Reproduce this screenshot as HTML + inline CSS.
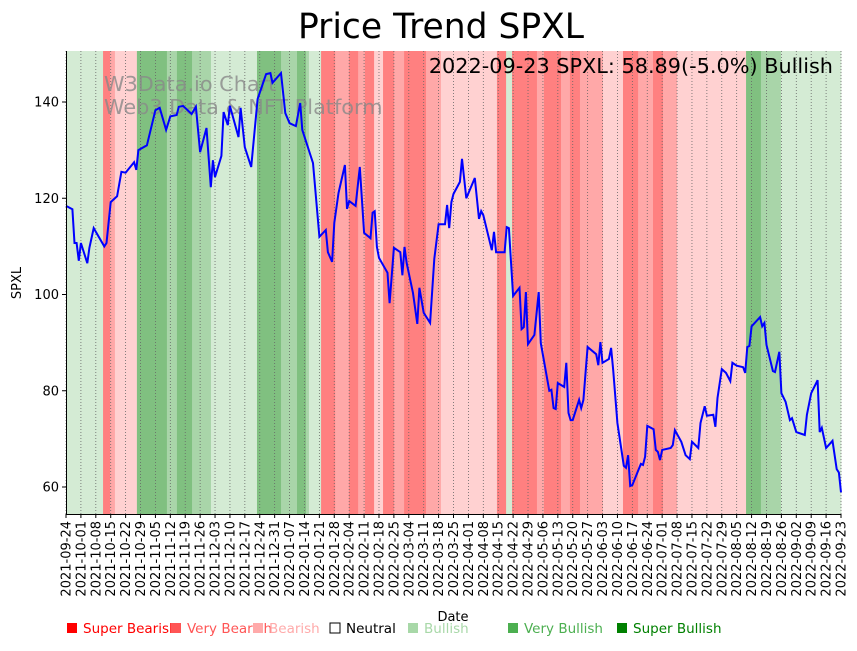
<!DOCTYPE html>
<html><head><meta charset="utf-8"><style>
body{margin:0;background:#fff;font-family:"Liberation Sans","DejaVu Sans",sans-serif;}
svg text{font-family:"DejaVu Sans","Liberation Sans",sans-serif;}
</style></head><body>
<svg id="chart" width="857" height="646" xmlns="http://www.w3.org/2000/svg">
<text x="441" y="38" text-anchor="middle" font-size="34.5">Price Trend SPXL</text>
<g id="bands"></g>
<g id="grid"></g>
<text x="104" y="91" font-size="20.8" fill="#888" fill-opacity="0.8">W3Data.io Chart</text>
<text x="104" y="114" font-size="20.8" fill="#888" fill-opacity="0.8">Web3 Data &amp; NFT Platform</text>
<path id="line" fill="none" stroke="#0000ff" stroke-width="2"/>
<text x="833" y="73" text-anchor="end" font-size="20.8">2022-09-23 SPXL: 58.89(-5.0%) Bullish</text>
<line x1="66.5" y1="51" x2="66.5" y2="514" stroke="#000"/>
<line x1="66" y1="514.5" x2="841" y2="514.5" stroke="#000"/>
<g id="yticks"></g>
<g id="xticks"></g>
<text transform="translate(21,283) rotate(-90)" text-anchor="middle" font-size="13">SPXL</text>
<text x="453" y="621" text-anchor="middle" font-size="13">Date</text>
<g id="legend" font-size="13.5"></g>
</svg>
<script>
const days=[0,3,4,5,6,7,10,11,13,18,19,21,24,26,28,32,33,34,38,42,44,47,49,52,53,55,59,61,63,66,68,69,70,73,74,76,77,81,82,84,87,90,94,96,97,101,103,105,108,110,111,116,119,122,123,125,126,128,131,132,133,136,138,140,143,144,145,146,147,151,152,154,157,158,159,160,163,165,166,168,171,173,175,178,179,180,181,182,185,186,188,192,194,195,196,200,201,202,206,207,208,210,213,214,215,216,217,220,222,223,227,228,229,230,231,234,235,236,237,238,241,242,243,245,249,250,251,252,255,256,257,259,262,263,264,265,266,270,271,272,273,276,277,278,279,280,284,285,286,289,291,293,294,297,298,300,301,304,305,306,308,310,312,313,315,318,319,320,321,322,326,327,328,329,332,333,335,336,338,340,341,343,347,348,350,353,354,355,357,360,362,363,364];
const prices=[118.4,117.7,110.7,110.7,107,110.7,106.5,109.7,113.8,110,110.7,119.2,120.4,125.5,125.3,127.5,125.9,130,131,138.3,138.8,134.2,137,137.3,139,139.2,137.5,139,129.6,134.6,122.3,127.9,124.4,128.8,137.9,135.2,139.2,132.7,138.8,130.6,126.5,140.6,145.8,146,144,146,137.7,135.6,135,139.8,134.2,127.3,112,113.4,108.8,106.8,114.9,121.1,126.9,117.8,119.4,118.4,126.5,112.8,111.7,117,117.3,109.9,107.6,104.5,98.2,109.7,108.8,104,109.9,106.5,100.3,93.9,101.4,96.2,94.1,107.4,114.6,114.6,118.6,113.8,119.2,120.9,123.4,128.2,120,124.2,115.7,117.3,116.5,109.2,113,108.8,108.8,114,113.8,99.7,101.4,92.8,93.2,100.5,89.7,91.6,100.5,89.9,80,80.2,76.4,76.2,81.6,80.8,85.8,75.4,73.9,73.9,78.1,76.4,78.1,89.1,87.6,85.3,90.1,85.8,86.6,88.9,84.3,73.3,64.4,64,66.6,60.2,60.4,64.8,64.6,66.3,72.7,72,67.7,67.3,65.6,67.7,68.1,68.7,71.8,69.4,66.6,65.8,69.4,68.1,73.3,76.8,74.8,75,72.5,78.5,84.5,83.7,82,85.8,85.2,84.9,83.7,89.1,89.3,93.4,95.3,93.4,94.1,89.5,84.1,83.9,88.1,79.5,77.7,73.9,74.3,71.4,70.8,75,79.5,82.2,71.4,72.3,68.1,69.6,63.7,63,58.9];
const bandStarts=[0,17.4,20.7,23,33.3,47.4,52.1,59.2,68.1,89.7,101,108.5,112.7,114.1,119.8,126.4,132.9,137.2,140.4,144.7,148.9,154.1,158.8,169.1,176.1,202.4,206.7,209.5,221.2,224.5,232.5,236.7,241.4,252.2,261.6,268.7,275.7,280.4,287,319.4,326.4,335.8];
const bandLevels=[1,-3,-2,-1,3,2,3,2,1,3,2,3,2,1,-3,-2,-3,-2,-3,-1,-3,-2,-3,-2,-1,-3,1,-3,-2,-3,-2,-3,-2,-1,-3,-2,-3,-2,-1,3,2,1];
const yTicks=[60,80,100,120,140];
const legendLabels=["Super Bearish","Very Bearish","Bearish","Neutral","Bullish","Very Bullish","Super Bullish"];
const legendColors=["#ff0000","#ff5555","#ffaaaa","#000000","#a8d8a8","#4caf50","#008000"];
const startDate=new Date(Date.UTC(2021,8,24));const totalDays=364;
const X0=66,X1=841,Y0=51,Y1=514;
const xs=d=>X0+(X1-X0)*d/totalDays;
const ys=v=>487-(v-60)*4.8125;
const NS="http://www.w3.org/2000/svg";
function mk(tag,attrs,parent){const e=document.createElementNS(NS,tag);for(const k in attrs)e.setAttribute(k,attrs[k]);parent.appendChild(e);return e;}
const bandColor={"1":"#d4ebd4","2":"#a9d5a9","3":"#80c080","-1":"#ffd1d1","-2":"#ffa8a8","-3":"#ff8080"};
const bg=document.getElementById('bands');
bandStarts.forEach((s,i)=>{const e=i+1<bandStarts.length?bandStarts[i+1]:totalDays;
 const r=mk('rect',{x:xs(s),y:Y0,width:xs(e)-xs(s)+0.4,height:Y1-Y0,fill:bandColor[bandLevels[i]]},bg);
 
 });
const grid=document.getElementById('grid'),xt=document.getElementById('xticks');
for(let d=0;d<=totalDays;d+=7){const x=xs(d);
 const g=mk('line',{x1:x,y1:Y0,x2:x,y2:Y1,stroke:'#666','stroke-width':0.8,'stroke-dasharray':'1,2'},grid);
 
 
 mk('line',{x1:x,y1:Y1,x2:x,y2:Y1+4,stroke:'#000'},xt);
 const dt=new Date(startDate.getTime()+d*86400000);const s=dt.toISOString().slice(0,10);
 const t=mk('text',{transform:`translate(${x+4.5},${Y1+7}) rotate(-90)`,'text-anchor':'end','font-size':13},xt);
 t.textContent=s;
 
 }
const yt=document.getElementById('yticks');
yTicks.forEach(v=>{const y=ys(v);mk('line',{x1:X0-4,y1:y,x2:X0,y2:y,stroke:'#000'},yt);
 const t=mk('text',{x:X0-7,y:y+4.5,'text-anchor':'end','font-size':13},yt);t.textContent=v;
 
 });
document.getElementById('line').setAttribute('d',days.map((d,i)=>(i?'L':'M')+xs(d).toFixed(1)+','+ys(prices[i]).toFixed(1)).join(''));
const lg=document.getElementById('legend');const lx=[66,170,252,329,407,507,616];
legendLabels.forEach((l,i)=>{
 const r=mk('rect',{x:lx[i]+1,y:623,width:10,height:10,fill:i===3?'#fff':legendColors[i],stroke:i===3?'#000':'none'},lg);
 
 
 const t=mk('text',{x:lx[i]+17,y:633,fill:legendColors[i]},lg);t.textContent=l;
 
 });
</script>
</body></html>
